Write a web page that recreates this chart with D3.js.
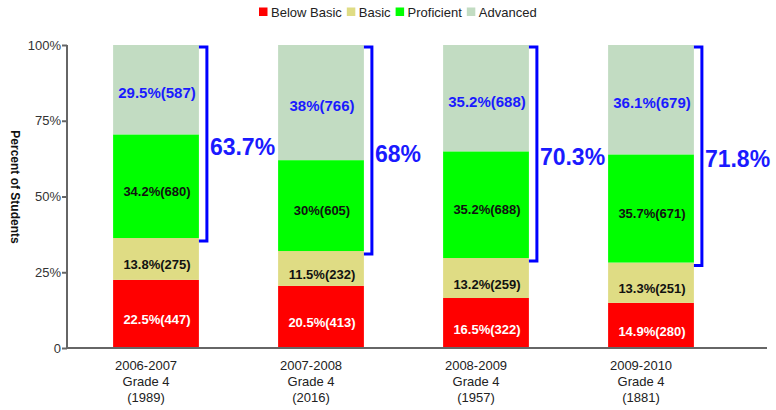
<!DOCTYPE html>
<html>
<head>
<meta charset="utf-8">
<script src="https://cdn.jsdelivr.net/npm/d3@7"></script>
<style>
body{margin:0;background:#fff;}
text{font-family:"Liberation Sans",Arial,sans-serif;}
</style>
</head>
<body>
<svg id="chart" width="776" height="410"></svg>
<script>
// data
const years = ["2006-2007","2007-2008","2008-2009","2009-2010"]
const grades = ["Grade 4","Grade 4","Grade 4","Grade 4"]
const nStudents = [1989, 2016, 1957, 1881]
const levels = ["Below Basic","Basic","Proficient","Advanced"]
const belowBasicPct = [22.5, 20.5, 16.5, 14.9]
const belowBasicN = [447, 413, 322, 280]
const basicPct = [13.8, 11.5, 13.2, 13.3]
const basicN = [275, 232, 259, 251]
const proficientPct = [34.2, 30, 35.2, 35.7]
const proficientN = [680, 605, 688, 671]
const advancedPct = [29.5, 38, 35.2, 36.1]
const advancedN = [587, 766, 688, 679]
const profPlusAdv = [63.7, 68, 70.3, 71.8]
const yTicks = [0, 25, 50, 75, 100]

const colors = {"Below Basic":"#ff0000", "Basic":"#dfdc84", "Proficient":"#00ff00", "Advanced":"#c2dcc2"}
const labelStyle = {
	"Below Basic": {fill:"#fff", size:13, dy:6},
	"Basic": {fill:"#111", size:13, dy:6},
	"Proficient": {fill:"#111", size:13, dy:5},
	"Advanced": {fill:"#1a1aff", size:15, dy:3}
}
const pcts = [belowBasicPct, basicPct, proficientPct, advancedPct]
const counts = [belowBasicN, basicN, proficientN, advancedN]

const rows = years.map((yr, i) => {
	const r = {year: yr}
	levels.forEach((l, j) => { r[l] = pcts[j][i]; r[l+"_n"] = counts[j][i] })
	return r
})

const svg = d3.select("#chart")
const x = d3.scaleBand().domain(years).range([73.5, 733.5]).paddingInner(0.48).paddingOuter(0.24)
const y = d3.scaleLinear().domain([0, 100]).range([348, 45])

const series = d3.stack().keys(levels)(rows)

// bars
const g = svg.append("g")
series.forEach((s, j) => {
	const lvl = levels[j]
	g.append("g").selectAll("rect")
		.data(s).enter().append("rect")
		.attr("x", d => x(d.data.year))
		.attr("width", x.bandwidth())
		.attr("y", d => y(Math.min(100, d[1])))
		.attr("height", d => y(d[0]) - y(Math.min(100, d[1])))
		.attr("fill", colors[lvl])
	g.append("g").selectAll("text")
		.data(s).enter().append("text")
		.attr("x", d => x(d.data.year) + x.bandwidth()/2 + 1)
		.attr("y", d => (y(d[0]) + y(Math.min(100, d[1])))/2 + labelStyle[lvl].dy)
		.attr("text-anchor", "middle")
		.attr("dominant-baseline", "central")
		.attr("font-weight", "bold")
		.attr("font-size", labelStyle[lvl].size)
		.attr("fill", labelStyle[lvl].fill)
		.text(d => d.data[lvl] + "%(" + d.data[lvl+"_n"] + ")")
})

// brackets around proficient + advanced
const brk = svg.append("g")
years.forEach((yr, i) => {
	const x0 = x(yr) + x.bandwidth(), x1 = x0 + 8
	const top = y(100) + 2, bot = y(belowBasicPct[i] + basicPct[i]) + 3
	brk.append("path")
		.attr("d", `M${x0},${top}H${x1}V${bot}H${x0}`)
		.attr("fill", "none").attr("stroke", "#0000ff").attr("stroke-width", 3)
	brk.append("text")
		.attr("x", x1 + 3).attr("y", (top + bot)/2 + 3)
		.attr("dominant-baseline", "central")
		.attr("font-weight", "bold").attr("font-size", 23)
		.attr("fill", "#1a1aff")
		.text(profPlusAdv[i] + "%")
})

// y axis
const yAxis = svg.append("g").attr("transform", "translate(67,0)")
	.call(d3.axisLeft(y).tickValues(yTicks).tickSize(5).tickPadding(1)
		.tickFormat(d => d === 0 ? "0" : d + "%"))
yAxis.select(".domain").attr("stroke", "#666").attr("stroke-width", 2).attr("d", "M0,45V349")
yAxis.selectAll(".tick line").attr("stroke", "#666").attr("stroke-width", 2)
yAxis.selectAll(".tick text").attr("font-size", 13).attr("fill", "#333")
	.attr("font-family", "'Liberation Sans',Arial,sans-serif")

// x axis line
svg.append("line").attr("x1", 66).attr("x2", 767).attr("y1", 348).attr("y2", 348)
	.attr("stroke", "#666").attr("stroke-width", 2)

// x labels
const xl = svg.append("g").selectAll("text").data(years).enter().append("text")
	.attr("text-anchor", "middle").attr("font-size", 13).attr("fill", "#222")
	.attr("transform", d => `translate(${x(d) + x.bandwidth()/2 - 10},0)`)
xl.append("tspan").attr("x", 0).attr("y", 370).text(d => d)
xl.append("tspan").attr("x", 0).attr("y", 386).text((d, i) => grades[i])
xl.append("tspan").attr("x", 0).attr("y", 402).text((d, i) => "(" + nStudents[i] + ")")

// y title
svg.append("text")
	.attr("transform", "translate(15,187) rotate(90)")
	.attr("text-anchor", "middle").attr("dominant-baseline", "central")
	.attr("font-weight", "bold").attr("font-size", 12).attr("fill", "#111")
	.text("Percent of Students")

// legend
const leg = svg.append("g")
let lx = 259
levels.forEach(l => {
	leg.append("rect").attr("x", lx).attr("y", 7.5).attr("width", 8.5).attr("height", 8.5).attr("fill", colors[l])
	const t = leg.append("text").attr("x", lx + 12).attr("y", 12).attr("dominant-baseline", "central")
		.attr("font-size", 13).attr("fill", "#222").text(l)
	lx += 12 + t.node().getComputedTextLength() + 5
})
</script>
</body>
</html>
